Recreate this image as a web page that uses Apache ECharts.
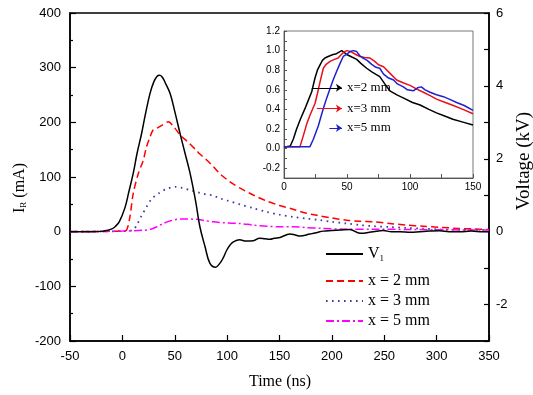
<!DOCTYPE html>
<html>
<head>
<meta charset="utf-8">
<script src="https://cdn.jsdelivr.net/npm/echarts@6/dist/echarts.min.js"></script>
<style>html,body{margin:0;padding:0;background:#fff}#c{width:533px;height:395px}</style>
</head>
<body>
<div id="c"></div>
<script>
// ---- main chart data (time in ns) ----
var v1Time = [-50,-30,-20,-15,-10,-7,-3,2.5,6,10.4,14,18.4,22,26.4,30,33,35.3,38,41,45.5,50,55,60,64.6,70,74,79,83.6,89,93,96,99.6,103,106,112,118,125,131,136,141,145,150.5,160,165,169.6,179,185,191.8,200,208,217,227,239.5,249,257,265,275,284,293,303,312,322,333,344,350];
var v1Values = [0,0,0.008,0.03,0.075,0.135,0.27,0.66,1.07,1.605,2.145,2.7,3.225,3.795,4.11,4.26,4.29,4.245,4.08,3.795,3.3,2.7,2.13,1.605,0.825,0.135,-0.42,-0.87,-0.975,-0.87,-0.735,-0.51,-0.36,-0.278,-0.225,-0.255,-0.249,-0.18,-0.195,-0.21,-0.18,-0.158,-0.066,-0.09,-0.12,-0.066,-0.03,0.015,0.03,0.045,0.06,-0.045,0,0.03,0,0,-0.015,0,0.015,0.024,0,0,0.015,0,0];

var x2Time = [-50,-20,0,4,7,10.4,15,20,23,26.4,29,32.8,38,43.8,49,55,62,71,74,80.5,86.8,93,100,106,112,125,137.7,150,163,175,185.5,200,214,227,240,255,271,287,303,320,335,350];
var x2Values = [0,0.5,1,3,25,70,105,131,155,173,185,189,195,201,192,177,165,148,142,131,119,106,95,87,80,67,56,48,41,34,30,25,21,19,18,15,12,10,8,6,5,4];

var x3Time = [-50,0,10,13.7,18,23,28,34.6,42,50.7,57,64.6,74,80.5,86.8,93,100,112,125,138,150,163,176,189,200,214,227,240,255,271,287,303,325,350];
var x3Values = [0,1,3,12,28,45,60,70,78,82,80,76,71,68,66,61,57,50,43,36,31,27,24,21,18,15,12,10,8.5,7,5.5,4,3.5,3];

var x5Time = [-50,-20,0,20,26.4,33,39,46,55,63,71,78,86.8,100,112,125,138,150,163,175,190,214,240,271,300,350];
var x5Values = [0,0.5,1,2.5,4,9,15,20,23,23,22.5,20.5,18,16,15,12,10,9,9,7.5,6,4.5,4.5,4,3.5,3];

// ---- inset data (normalised) ----
var inBlackTime = [0,2,5,7.5,10,13,16.7,19.5,22,24.6,26.5,28.6,30.5,32.5,35,37,39,41,43,45.8,47.5,49.8,53,57.7,61,65.6,70,76,80,84,90,95,102,108,115,121,128,134,142,150];
var inBlackValues = [0.01,0.02,0.026,0.1,0.2,0.3,0.41,0.5,0.58,0.72,0.8,0.855,0.9,0.925,0.94,0.95,0.96,0.965,0.98,1.0,0.985,0.96,0.94,0.91,0.87,0.82,0.78,0.735,0.66,0.59,0.545,0.515,0.47,0.445,0.4,0.365,0.33,0.3,0.27,0.24];

var inRedTime = [0,12.7,15.3,18,20.6,24.6,26.5,28.6,31.2,33.5,36.5,40,43,45.5,48,50,53.7,57,60.3,64,68,72,75,79,84,89.4,95,100,105,110.6,116,121,128,134.4,142,150];
var inRedValues = [0.02,0.02,0.13,0.25,0.34,0.46,0.56,0.68,0.82,0.86,0.89,0.91,0.925,0.96,0.99,1.0,0.985,0.96,0.94,0.93,0.925,0.89,0.855,0.835,0.77,0.7,0.67,0.645,0.61,0.575,0.54,0.505,0.47,0.44,0.4,0.355];

var inBlueTime = [0,20.6,23.3,27.2,31.2,34,36.5,39,41.8,44.5,47,50,52.4,55,57.7,60,63,66,69.6,73,76,79,83,87,90,94.7,98,102.6,106,109,112,115.9,121,126.5,132,137,143,150];
var inBlueValues = [0.02,0.02,0.095,0.23,0.41,0.52,0.61,0.7,0.79,0.87,0.94,0.965,0.99,1.0,0.99,0.95,0.92,0.9,0.86,0.83,0.82,0.76,0.72,0.7,0.66,0.63,0.6,0.59,0.62,0.63,0.6,0.575,0.55,0.53,0.5,0.47,0.44,0.39];

// tick labels and tick positions
var rightLabels = [-2,0,2,4,6];
var rightTicks = [-3,-2,-1,0,1,2,3,4,5,6];
var insetYLabels = [-0.2,0,0.2,0.4,0.6,0.8,1.0,1.2];
var insetYTicks = [-0.3,-0.2,-0.1,0,0.1,0.2,0.3,0.4,0.5,0.6,0.7,0.8,0.9,1.0,1.1,1.2];

function zip(a,b){return a.map(function(t,i){return [t,b[i]];});}

var serif = 'Liberation Serif';
var sans = 'Liberation Sans';

var chart = echarts.init(document.getElementById('c'), null, {renderer:'canvas'});

var arrowLabel = {show:true, position:'end', distance:5, color:'#000', fontFamily:serif, fontSize:13};
function arrow(y, x0, x1, txt){
  return [{coord:[x0,y], label:Object.assign({}, arrowLabel, {formatter:txt})},{coord:[x1,y]}];
}

var option = {
  animation:false,
  backgroundColor:'#fff',
  grid:[
    {left:70, top:13, right:44, bottom:54, show:true, borderColor:'#000', borderWidth:1.5, backgroundColor:'#fff'},
    {left:284, top:31, right:60, bottom:217, show:true, borderColor:'#777', borderWidth:1, backgroundColor:'#fff'}
  ],
  xAxis:[
    {type:'value', gridIndex:0, min:-50, max:350, interval:50,
      axisLine:{show:true, onZero:false, lineStyle:{color:'#000', width:1.5}},
      axisTick:{show:true, inside:true, length:6, lineStyle:{color:'#000', width:1.2}},
      axisLabel:{color:'#000', fontFamily:sans, fontSize:13, margin:9},
      splitLine:{show:false}},
    {type:'value', gridIndex:1, min:0, max:150, interval:50,
      axisLine:{show:true, onZero:false, lineStyle:{color:'#555', width:1}},
      axisTick:{show:true, inside:true, length:4, lineStyle:{color:'#555'}},
      minorTick:{show:true, splitNumber:2, length:4, lineStyle:{color:'#555'}},
      axisLabel:{color:'#000', fontFamily:sans, fontSize:10, margin:4},
      splitLine:{show:false}}
  ],
  yAxis:[
    {type:'value', gridIndex:0, min:-200, max:400, interval:100, position:'left',
      axisLine:{show:true, onZero:false, lineStyle:{color:'#000', width:1.5}},
      axisTick:{show:true, inside:true, length:6, lineStyle:{color:'#000', width:1.2}},
      minorTick:{show:true, splitNumber:2, length:3, lineStyle:{color:'#000', width:1.2}},
      axisLabel:{color:'#000', fontFamily:sans, fontSize:13, margin:9},
      splitLine:{show:false}},
    {type:'value', gridIndex:0, min:-3, max:6, position:'right',
      axisLine:{show:true, onZero:false, lineStyle:{color:'#000', width:1.5}},
      axisTick:{show:true, inside:true, length:5, customValues:rightTicks, lineStyle:{color:'#000', width:1.2}},
      axisLabel:{color:'#000', fontFamily:sans, fontSize:13, margin:7, customValues:rightLabels},
      splitLine:{show:false}},
    {type:'value', gridIndex:1, min:-0.3, max:1.2, position:'left',
      axisLine:{show:true, onZero:false, lineStyle:{color:'#555', width:1}},
      axisTick:{show:true, inside:true, length:3, customValues:insetYTicks, lineStyle:{color:'#555'}},
      axisLabel:{color:'#000', fontFamily:sans, fontSize:10, margin:4, customValues:insetYLabels,
        formatter:function(v){return v.toFixed(1);}},
      splitLine:{show:false}}
  ],
  legend:[
    {data:['V1'], orient:'vertical', left:320, top:241, itemWidth:37, itemHeight:14, itemGap:6,
      itemStyle:{opacity:0},
      textStyle:{fontFamily:serif, fontSize:16, color:'#000',
        rich:{a:{fontFamily:serif, fontSize:16, color:'#000'}, s:{fontFamily:serif, fontSize:9, color:'#000', padding:[10,0,0,0]}}},
      formatter:function(n){return '{a|V}{s|1}';}},
    {data:['x = 2 mm','x = 3 mm','x = 5 mm'], orient:'vertical', left:320, top:268, itemWidth:37, itemHeight:14, itemGap:4,
      itemStyle:{opacity:0},
      textStyle:{fontFamily:serif, fontSize:16, color:'#000'}}
  ],
  graphic:[
    {type:'text', x:20, y:188, rotation:Math.PI/2,
      style:{text:'{a|I}{s|R}{a| (mA)}', align:'center', verticalAlign:'middle',
        rich:{a:{fontFamily:serif, fontSize:16, fill:'#000'}, s:{fontFamily:serif, fontSize:9, fill:'#000', padding:[8,0,0,0]}}}},
    {type:'text', x:524, y:161, rotation:Math.PI/2,
      style:{text:'Voltage (kV)', align:'center', verticalAlign:'middle', fontFamily:serif, fontSize:19, fill:'#000'}},
    {type:'text', x:280, y:382,
      style:{text:'Time (ns)', align:'center', verticalAlign:'middle', fontFamily:serif, fontSize:16, fill:'#000'}}
  ],
  series:[
    {name:'V1', type:'line', xAxisIndex:0, yAxisIndex:1, data:zip(v1Time,v1Values), symbol:'none', smooth:0.4,
      lineStyle:{color:'#000', width:1.5}, itemStyle:{color:'#000'}, z:5},
    {name:'x = 2 mm', type:'line', xAxisIndex:0, yAxisIndex:0, data:zip(x2Time,x2Values), symbol:'none', smooth:0.3,
      lineStyle:{color:'#ff0000', width:1.5, type:[7,4]}, itemStyle:{color:'#ff0000'}},
    {name:'x = 3 mm', type:'line', xAxisIndex:0, yAxisIndex:0, data:zip(x3Time,x3Values), symbol:'none', smooth:0.3,
      lineStyle:{color:'#3a3a9e', width:1.8, type:[1.6,4.4]}, itemStyle:{color:'#3a3a9e'}},
    {name:'x = 5 mm', type:'line', xAxisIndex:0, yAxisIndex:0, data:zip(x5Time,x5Values), symbol:'none', smooth:0.3,
      lineStyle:{color:'#ff00ff', width:1.5, type:[8,3,2,3]}, itemStyle:{color:'#ff00ff'}},
    {name:'inBlack', type:'line', xAxisIndex:1, yAxisIndex:2, data:zip(inBlackTime,inBlackValues), symbol:'none',
      lineStyle:{color:'#000', width:1.5}, itemStyle:{color:'#000'},
      markLine:{silent:true, symbol:['none','arrow'], symbolSize:6, lineStyle:{color:'#000', width:1, type:'solid'},
        data:[arrow(0.62,22,46,'x=2 mm')]}},
    {name:'inRed', type:'line', xAxisIndex:1, yAxisIndex:2, data:zip(inRedTime,inRedValues), symbol:'none',
      lineStyle:{color:'#e8101a', width:1.5}, itemStyle:{color:'#e8101a'},
      markLine:{silent:true, symbol:['none','arrow'], symbolSize:6, lineStyle:{color:'#e8101a', width:1, type:'solid'},
        data:[arrow(0.41,26,46,'x=3 mm')]}},
    {name:'inBlue', type:'line', xAxisIndex:1, yAxisIndex:2, data:zip(inBlueTime,inBlueValues), symbol:'none',
      lineStyle:{color:'#2020cc', width:1.5}, itemStyle:{color:'#2020cc'},
      markLine:{silent:true, symbol:['none','arrow'], symbolSize:6, lineStyle:{color:'#2020cc', width:1, type:'solid'},
        data:[arrow(0.21,36,46,'x=5 mm')]}}
  ]
};
chart.setOption(option);
</script>
</body>
</html>
